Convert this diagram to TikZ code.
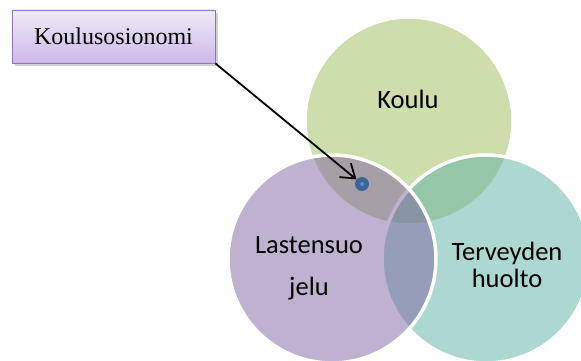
\documentclass[tikz,border=0pt]{standalone}
\usepackage{fontspec}
\setmainfont{Liberation Serif}
\newfontfamily\calibri{Carlito}
\usetikzlibrary{arrows.meta,shadows}

\definecolor{vgreen}{HTML}{9BBB59}
\definecolor{vpurple}{HTML}{8064A2}
\definecolor{vteal}{HTML}{5CB0A4}
\definecolor{boxtop}{HTML}{F0EBF8}
\definecolor{boxbot}{HTML}{CCB9EA}
\definecolor{boxedge}{HTML}{8E74B6}
\definecolor{dotblue}{HTML}{3A659C}
\definecolor{dotcore}{HTML}{5B8AC6}

\begin{document}
\begin{tikzpicture}[x=1pt,y=-1pt,
  venn/.style={circle, minimum size=208pt, inner sep=0pt,
    fill=#1, fill opacity=0.5, draw=white, draw opacity=1, line width=3.5pt},
  vtext/.style={font=\calibri\fontsize{26.5}{30}\selectfont, anchor=base, text=black},
  callbox/.style={rectangle, minimum width=203pt, minimum height=53pt,
    top color=boxtop, bottom color=boxbot, draw=boxedge, line width=0.8pt,
    font=\fontsize{24}{27}\selectfont,
    drop shadow={shadow xshift=3pt, shadow yshift=-3pt, fill=black!45, opacity=0.4}},
  marker/.style={circle, fill=dotblue, minimum size=14pt, inner sep=0pt},
  pointer/.style={line width=1.8pt, -{Straight Barb[length=13pt,width=18pt,line width=1.8pt]}}
]
\useasboundingbox (0,0) rectangle (581,361);

% Venn circles: school, health care, child welfare
\node[venn=vgreen]  (school)  at (409,121) {};
\node[venn=vteal]   (health)  at (486,259) {};
\node[venn=vpurple] (welfare) at (332,259) {};

% circle labels
\node[vtext] (koulu)  at (408,108) {Koulu};
\node[vtext] (lastA)  at (309,253) {Lastensuo};
\node[vtext] (lastB)  at (309,295) {jelu};
\node[vtext] (tervA)  at (507,260) {Terveyden};
\node[vtext] (tervB)  at (507,287) {huolto};

% marker in the school / child welfare overlap
\node[marker] (spot) at (362,184) {};
\fill[dotcore] (spot.center) circle (2pt);

% callout box and its pointer
\node[callbox] (callout) at (113.5,36.5) {Koulusosionomi};
\draw[pointer] (callout.south east) -- (spot);
\end{tikzpicture}
\end{document}
